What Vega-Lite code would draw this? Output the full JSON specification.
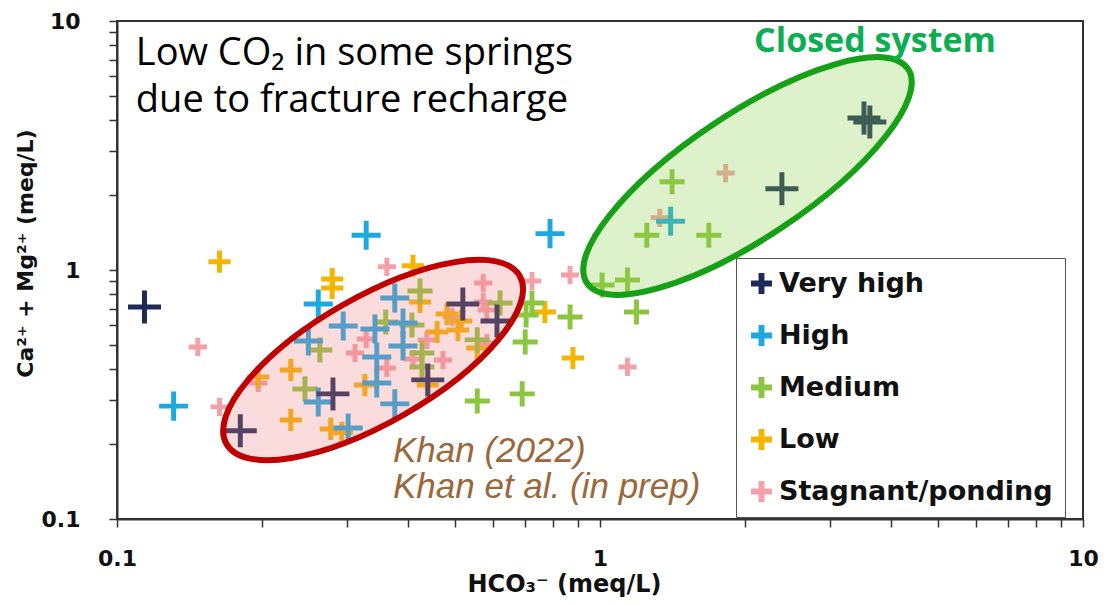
{
  "$schema": "https://vega.github.io/schema/vega-lite/v6.json",
  "width": 966,
  "height": 498,
  "autosize": {"type": "none"},
  "padding": {"left": 117, "top": 21, "right": 31, "bottom": 87},
  "background": "white",
  "config": {
    "view": {"stroke": "#333333", "strokeWidth": 2},
    "axis": {
      "grid": false,
      "tickSize": 8,
      "tickColor": "#333333",
      "tickWidth": 1.5,
      "domainColor": "#333333",
      "domainWidth": 2,
      "labelFont": "DejaVu Sans",
      "labelFontWeight": "bold",
      "labelFontSize": 22,
      "labelColor": "#111111",
      "labelOverlap": false,
      "labelFlush": false,
      "labelBound": false,
      "titleFont": "DejaVu Sans",
      "titleFontWeight": "bold",
      "titleFontSize": 24,
      "titleColor": "#111111"
    }
  },
  "datasets": {
    "points": [
      {"group": "Stagnant/ponding", "hco3": 0.147, "camg": 0.491},
      {"group": "Stagnant/ponding", "hco3": 0.163, "camg": 0.282},
      {"group": "Stagnant/ponding", "hco3": 0.196, "camg": 0.352},
      {"group": "Stagnant/ponding", "hco3": 0.328, "camg": 0.528},
      {"group": "Stagnant/ponding", "hco3": 0.311, "camg": 0.464},
      {"group": "Stagnant/ponding", "hco3": 0.362, "camg": 0.404},
      {"group": "Stagnant/ponding", "hco3": 0.362, "camg": 1.03},
      {"group": "Stagnant/ponding", "hco3": 0.41, "camg": 0.439},
      {"group": "Stagnant/ponding", "hco3": 0.438, "camg": 0.524},
      {"group": "Stagnant/ponding", "hco3": 0.473, "camg": 0.435},
      {"group": "Stagnant/ponding", "hco3": 0.494, "camg": 0.648},
      {"group": "Stagnant/ponding", "hco3": 0.573, "camg": 0.887},
      {"group": "Stagnant/ponding", "hco3": 0.573, "camg": 0.744},
      {"group": "Stagnant/ponding", "hco3": 0.583, "camg": 0.691},
      {"group": "Stagnant/ponding", "hco3": 0.583, "camg": 0.509},
      {"group": "Stagnant/ponding", "hco3": 0.723, "camg": 0.903},
      {"group": "Stagnant/ponding", "hco3": 0.867, "camg": 0.955},
      {"group": "Stagnant/ponding", "hco3": 1.14, "camg": 0.408},
      {"group": "Stagnant/ponding", "hco3": 1.33, "camg": 1.62},
      {"group": "Stagnant/ponding", "hco3": 1.82, "camg": 2.45},
      {"group": "Low", "hco3": 0.163, "camg": 1.08},
      {"group": "Low", "hco3": 0.279, "camg": 0.92},
      {"group": "Low", "hco3": 0.279, "camg": 0.847},
      {"group": "Low", "hco3": 0.196, "camg": 0.372},
      {"group": "Low", "hco3": 0.229, "camg": 0.397},
      {"group": "Low", "hco3": 0.229, "camg": 0.25},
      {"group": "Low", "hco3": 0.277, "camg": 0.23},
      {"group": "Low", "hco3": 0.292, "camg": 0.222},
      {"group": "Low", "hco3": 0.326, "camg": 0.345},
      {"group": "Low", "hco3": 0.41, "camg": 1.04},
      {"group": "Low", "hco3": 0.424, "camg": 0.744},
      {"group": "Low", "hco3": 0.482, "camg": 0.666},
      {"group": "Low", "hco3": 0.516, "camg": 0.624},
      {"group": "Low", "hco3": 0.508, "camg": 0.574},
      {"group": "Low", "hco3": 0.46, "camg": 0.564},
      {"group": "Low", "hco3": 0.557, "camg": 0.486},
      {"group": "Low", "hco3": 0.44, "camg": 0.345},
      {"group": "Low", "hco3": 0.769, "camg": 0.678},
      {"group": "Low", "hco3": 0.879, "camg": 0.443},
      {"group": "Medium", "hco3": 0.245, "camg": 0.333},
      {"group": "Medium", "hco3": 0.263, "camg": 0.477},
      {"group": "Medium", "hco3": 0.36, "camg": 0.618},
      {"group": "Medium", "hco3": 0.408, "camg": 0.601},
      {"group": "Medium", "hco3": 0.424, "camg": 0.824},
      {"group": "Medium", "hco3": 0.428, "camg": 0.464},
      {"group": "Medium", "hco3": 0.428, "camg": 0.408},
      {"group": "Medium", "hco3": 0.557, "camg": 0.524},
      {"group": "Medium", "hco3": 0.621, "camg": 0.737},
      {"group": "Medium", "hco3": 0.723, "camg": 0.737},
      {"group": "Medium", "hco3": 0.703, "camg": 0.66},
      {"group": "Medium", "hco3": 0.7, "camg": 0.514},
      {"group": "Medium", "hco3": 0.867, "camg": 0.648},
      {"group": "Medium", "hco3": 1.19, "camg": 0.678},
      {"group": "Medium", "hco3": 0.557, "camg": 0.298},
      {"group": "Medium", "hco3": 0.69, "camg": 0.318},
      {"group": "Medium", "hco3": 1.01, "camg": 0.871},
      {"group": "Medium", "hco3": 1.14, "camg": 0.912},
      {"group": "Medium", "hco3": 1.25, "camg": 1.38},
      {"group": "Medium", "hco3": 1.68, "camg": 1.38},
      {"group": "Medium", "hco3": 1.41, "camg": 2.26},
      {"group": "High", "hco3": 0.328, "camg": 1.38},
      {"group": "High", "hco3": 0.788, "camg": 1.4},
      {"group": "High", "hco3": 0.131, "camg": 0.284},
      {"group": "High", "hco3": 0.261, "camg": 0.73},
      {"group": "High", "hco3": 0.249, "camg": 0.519},
      {"group": "High", "hco3": 0.294, "camg": 0.596},
      {"group": "High", "hco3": 0.342, "camg": 0.58},
      {"group": "High", "hco3": 0.376, "camg": 0.772},
      {"group": "High", "hco3": 0.391, "camg": 0.613},
      {"group": "High", "hco3": 0.391, "camg": 0.495},
      {"group": "High", "hco3": 0.345, "camg": 0.447},
      {"group": "High", "hco3": 0.345, "camg": 0.352},
      {"group": "High", "hco3": 0.376, "camg": 0.29},
      {"group": "High", "hco3": 0.261, "camg": 0.295},
      {"group": "High", "hco3": 0.301, "camg": 0.232},
      {"group": "High", "hco3": 1.4, "camg": 1.57},
      {"group": "Very high", "hco3": 0.114, "camg": 0.71},
      {"group": "Very high", "hco3": 0.18, "camg": 0.226},
      {"group": "Very high", "hco3": 0.28, "camg": 0.318},
      {"group": "Very high", "hco3": 0.44, "camg": 0.362},
      {"group": "Very high", "hco3": 0.52, "camg": 0.73},
      {"group": "Very high", "hco3": 0.612, "camg": 0.624},
      {"group": "Very high", "hco3": 2.38, "camg": 2.12},
      {"group": "Very high", "hco3": 3.52, "camg": 4.08},
      {"group": "Very high", "hco3": 3.62, "camg": 3.93}
    ]
  },
  "encoding": {
    "x": {
      "field": "hco3",
      "type": "quantitative",
      "scale": {"type": "log", "domain": [0.1, 10], "nice": false, "zero": false},
      "axis": {
        "title": "HCO₃⁻ (meq/L)",
        "values": [0.1, 0.2, 0.3, 0.4, 0.5, 0.6, 0.7, 0.8, 0.9, 1, 2, 3, 4, 5, 6, 7, 8, 9, 10],
        "labelExpr": "datum.value == 10 ? '10' : datum.value == 1 ? '1' : datum.value == 0.1 ? '0.1' : ''",
        "labelPadding": 21,
        "titlePadding": 3,
        "titleX": 447
      }
    },
    "y": {
      "field": "camg",
      "type": "quantitative",
      "scale": {"type": "log", "domain": [0.1, 10], "nice": false, "zero": false},
      "axis": {
        "title": "Ca²⁺ + Mg²⁺ (meq/L)",
        "values": [0.1, 0.2, 0.3, 0.4, 0.5, 0.6, 0.7, 0.8, 0.9, 1, 2, 3, 4, 5, 6, 7, 8, 9, 10],
        "labelExpr": "datum.value == 10 ? '10' : datum.value == 1 ? '1' : datum.value == 0.1 ? '0.1' : ''",
        "labelPadding": 29,
        "titlePadding": 4,
        "titleFontSize": 22,
        "titleY": 232
      }
    }
  },
  "layer": [
    {
      "data": {"name": "points"},
      "mark": {"type": "point", "filled": true, "opacity": 1, "strokeWidth": 0, "size": 1089},
      "encoding": {
        "fill": {
          "field": "group",
          "type": "nominal",
          "scale": {
            "domain": ["Stagnant/ponding", "Low", "Medium", "High", "Very high"],
            "range": ["#f3a0a8", "#f4b400", "#8cc540", "#1ea8e0", "#1b2a57"]
          },
          "legend": null
        },
        "shape": {
          "field": "group",
          "type": "nominal",
          "scale": {
            "domain": ["Stagnant/ponding", "Low", "Medium", "High", "Very high"],
            "range": [
              "M-0.55,-0.15L-0.15,-0.15L-0.15,-0.55L0.15,-0.55L0.15,-0.15L0.55,-0.15L0.55,0.15L0.15,0.15L0.15,0.55L-0.15,0.55L-0.15,0.15L-0.55,0.15Z",
              "M-0.67,-0.15L-0.15,-0.15L-0.15,-0.67L0.15,-0.67L0.15,-0.15L0.67,-0.15L0.67,0.15L0.15,0.15L0.15,0.67L-0.15,0.67L-0.15,0.15L-0.67,0.15Z",
              "M-0.76,-0.15L-0.15,-0.15L-0.15,-0.76L0.15,-0.76L0.15,-0.15L0.76,-0.15L0.76,0.15L0.15,0.15L0.15,0.76L-0.15,0.76L-0.15,0.15L-0.76,0.15Z",
              "M-0.88,-0.15L-0.15,-0.15L-0.15,-0.88L0.15,-0.88L0.15,-0.15L0.88,-0.15L0.88,0.15L0.15,0.15L0.15,0.88L-0.15,0.88L-0.15,0.15L-0.88,0.15Z",
              "M-1,-0.15L-0.15,-0.15L-0.15,-1L0.15,-1L0.15,-0.15L1,-0.15L1,0.15L0.15,0.15L0.15,1L-0.15,1L-0.15,0.15L-1,0.15Z"
            ]
          },
          "legend": null
        }
      }
    },
    {
      "data": {"values": []},
      "mark": {
        "type": "point",
        "filled": true,
        "opacity": 1,
        "strokeWidth": 0,
        "size": 441,
        "shape": "M-1,-0.28L-0.28,-0.28L-0.28,-1L0.28,-1L0.28,-0.28L1,-0.28L1,0.28L0.28,0.28L0.28,1L-0.28,1L-0.28,0.28L-1,0.28Z"
      },
      "encoding": {
        "color": {
          "field": "group",
          "type": "nominal",
          "scale": {
            "domain": ["Very high", "High", "Medium", "Low", "Stagnant/ponding"],
            "range": ["#1b2a57", "#1ea8e0", "#8cc540", "#f4b400", "#f3a0a8"]
          },
          "legend": {
            "title": null,
            "orient": "none",
            "legendX": 619,
            "legendY": 237,
            "padding": 12,
            "rowPadding": 24,
            "labelFont": "DejaVu Sans",
            "labelFontWeight": "bold",
            "labelFontSize": 27,
            "labelColor": "#111111",
            "labelLimit": 400,
            "labelOffset": 4,
            "symbolSize": 441,
            "symbolOpacity": 1,
            "symbolStrokeWidth": 0,
            "symbolType": "M-1,-0.28L-0.28,-0.28L-0.28,-1L0.28,-1L0.28,-0.28L1,-0.28L1,0.28L0.28,0.28L0.28,1L-0.28,1L-0.28,0.28L-1,0.28Z",
            "strokeColor": "#555555",
            "fillColor": "white"
          }
        }
      }
    },
    {
      "data": {"values": [{"hco3": 0.339, "camg": 0.435}]},
      "mark": {
        "type": "point",
        "shape": "M-1,0A1,0.3716,0,1,1,1,0A1,0.3716,0,1,1,-1,0Z",
        "size": 114244,
        "angle": 330.2,
        "filled": false,
        "opacity": 1,
        "fill": "#f08080",
        "fillOpacity": 0.28,
        "stroke": "#c00000",
        "strokeOpacity": 1,
        "strokeWidth": 6
      }
    },
    {
      "data": {"values": [{"hco3": 2.02, "camg": 2.385}]},
      "mark": {
        "type": "point",
        "shape": "M-1,0A1,0.3212,0,1,1,1,0A1,0.3212,0,1,1,-1,0Z",
        "size": 148996,
        "angle": 326.3,
        "filled": false,
        "opacity": 1,
        "fill": "#8fd14f",
        "fillOpacity": 0.3,
        "stroke": "#16a016",
        "strokeOpacity": 1,
        "strokeWidth": 6
      }
    },
    {
      "data": {"values": [{"hco3": 0.1094, "camg": 6.66, "label": "Low CO₂ in some springs\ndue to fracture recharge"}]},
      "mark": {
        "type": "text",
        "align": "left",
        "baseline": "alphabetic",
        "font": "Open Sans",
        "fontSize": 38,
        "lineBreak": "\n",
        "lineHeight": 47,
        "color": "#000000"
      },
      "encoding": {"text": {"field": "label"}}
    },
    {
      "data": {"values": [{"hco3": 3.71, "camg": 7.51, "label": "Closed system"}]},
      "mark": {
        "type": "text",
        "align": "center",
        "baseline": "alphabetic",
        "font": "Open Sans",
        "fontWeight": "bold",
        "fontSize": 34,
        "color": "#0cae52"
      },
      "encoding": {"text": {"field": "label"}}
    },
    {
      "data": {"values": [
        {"hco3": 0.3727, "camg": 0.1694, "label": "Khan (2022)"},
        {"hco3": 0.3727, "camg": 0.1218, "label": "Khan et al. (in prep)"}
      ]},
      "mark": {
        "type": "text",
        "align": "left",
        "baseline": "alphabetic",
        "font": "Liberation Sans",
        "fontStyle": "italic",
        "fontSize": 35,
        "color": "#9a683a"
      },
      "encoding": {"text": {"field": "label"}}
    }
  ]
}
